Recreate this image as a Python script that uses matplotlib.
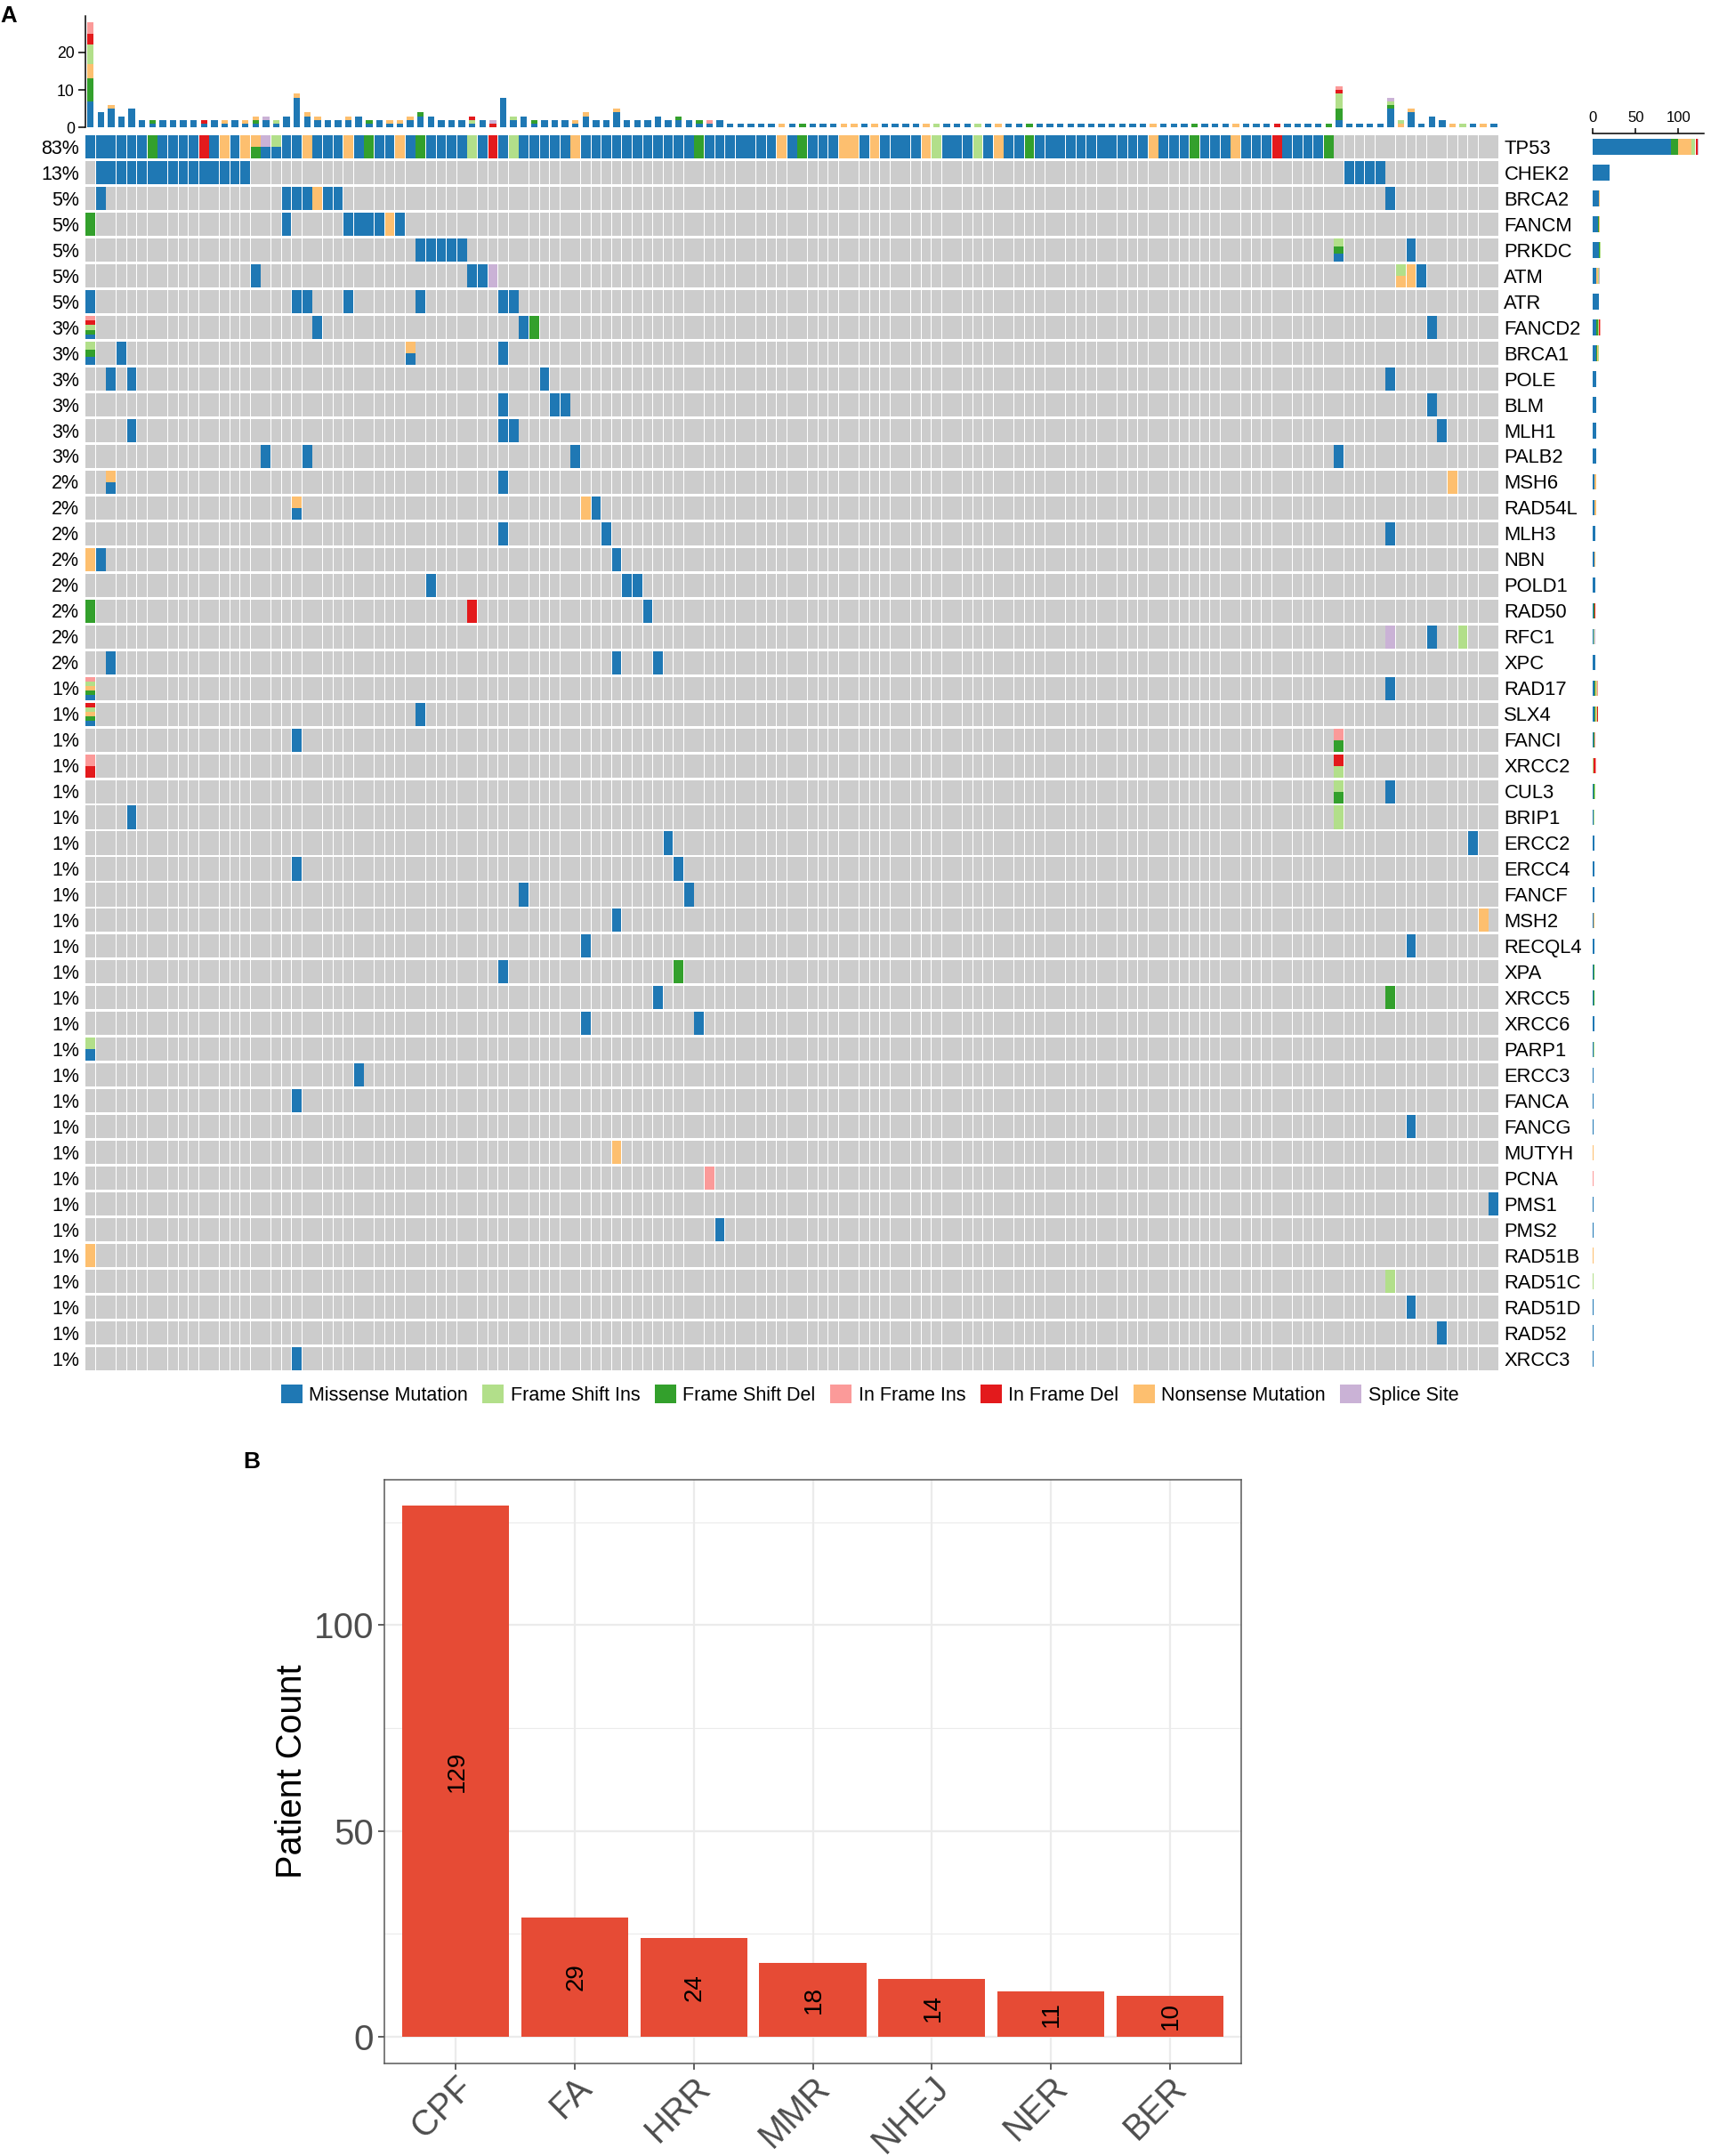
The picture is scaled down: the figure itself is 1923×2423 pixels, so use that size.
import numpy as np
import matplotlib
matplotlib.use("Agg")
import matplotlib.pyplot as plt
from matplotlib.patches import Patch

plt.rcParams['font.family'] = ['Liberation Sans', 'DejaVu Sans']

W, H = 1923, 2423

genes = ["TP53","CHEK2","BRCA2","FANCM","PRKDC","ATM","ATR","FANCD2","BRCA1","POLE","BLM","MLH1",
         "PALB2","MSH6","RAD54L","MLH3","NBN","POLD1","RAD50","RFC1","XPC","RAD17","SLX4","FANCI",
         "XRCC2","CUL3","BRIP1","ERCC2","ERCC4","FANCF","MSH2","RECQL4","XPA","XRCC5","XRCC6",
         "PARP1","ERCC3","FANCA","FANCG","MUTYH","PCNA","PMS1","PMS2","RAD51B","RAD51C","RAD51D",
         "RAD52","XRCC3"]
percents = [83,13,5,5,5,5,5,3,3,3,3,3,3,2,2,2,2,2,2,2,2] + [1]*27
n_samples = 137

# variant classes: M missense, D frameshift del, N nonsense, I frameshift ins,
# R in-frame del, P in-frame ins, S splice site (this is also the stacking order)
order = ["M","D","N","I","R","P","S"]
colors = {"M":"#1F78B4","I":"#B2DF8A","D":"#33A02C","P":"#FB9A99","R":"#E31A1C","N":"#FDBF6F","S":"#CAB2D6"}
legend_order = ["M","I","D","P","R","N","S"]
legend_names = {"M":"Missense Mutation","I":"Frame Shift Ins","D":"Frame Shift Del","P":"In Frame Ins",
                "R":"In Frame Del","N":"Nonsense Mutation","S":"Splice Site"}

# TP53 row, one letter-string per sample with a mutation
tp53 = ("M M M M M M D M M M M R M N M N DN MS MI M M N M M M N M D M M N M D M M M M I M R M I M M M M M "
        "N M M M M M M M M M M M D M M M M M M M N M D M M M N N M N M M M M N I M M M I M N M M D "
        "M M M M M M M M M M M N M M M D M M M N M M M R M M M M D").split()

cells = {
    1: {**{c:"M" for c in range(1,16)}, **{c:"M" for c in range(122,126)}},
    2: {1:"M",19:"M",20:"M",21:"M",22:"N",23:"M",24:"M",126:"M"},
    3: {0:"D",19:"M",25:"M",26:"M",27:"M",28:"M",29:"N",30:"M"},
    4: {32:"M",33:"M",34:"M",35:"M",36:"M",121:"MDI",128:"M"},
    5: {16:"M",37:"M",38:"M",39:"S",127:"NI",128:"N",129:"M"},
    6: {0:"M",20:"M",21:"M",25:"M",32:"M",40:"M",41:"M"},
    7: {0:"MDIRP",22:"M",42:"M",43:"D",130:"M"},
    8: {0:"MDI",3:"M",31:"MN",40:"M"},
    9: {2:"M",4:"M",44:"M",126:"M"},
    10: {40:"M",45:"M",46:"M",130:"M"},
    11: {4:"M",40:"M",41:"M",131:"M"},
    12: {17:"M",21:"M",47:"M",121:"M"},
    13: {2:"MN",40:"M",132:"N"},
    14: {20:"MN",48:"N",49:"M"},
    15: {40:"M",50:"M",126:"M"},
    16: {0:"N",1:"M",51:"M"},
    17: {33:"M",52:"M",53:"M"},
    18: {0:"D",37:"R",54:"M"},
    19: {126:"S",130:"M",133:"I"},
    20: {2:"M",51:"M",55:"M"},
    21: {0:"MDNIP",126:"M"},
    22: {0:"MDNIR",32:"M"},
    23: {20:"M",121:"DP"},
    24: {0:"RP",121:"IR"},
    25: {121:"DI",126:"M"},
    26: {4:"M",121:"I"},
    27: {56:"M",134:"M"},
    28: {20:"M",57:"M"},
    29: {42:"M",58:"M"},
    30: {51:"M",135:"N"},
    31: {48:"M",128:"M"},
    32: {40:"M",57:"D"},
    33: {55:"M",126:"D"},
    34: {48:"M",59:"M"},
    35: {0:"MI"},
    36: {26:"M"},
    37: {20:"M"},
    38: {128:"M"},
    39: {51:"N"},
    40: {60:"P"},
    41: {136:"M"},
    42: {61:"M"},
    43: {0:"N"},
    44: {126:"I"},
    45: {128:"M"},
    46: {131:"M"},
    47: {20:"M"},
}
cells[0] = {i: s for i, s in enumerate(tp53)}

# per-sample mutation counts (top bars)
top_M = [7,4,5,3,5,2,1,2,2,2,2,1,2,1,2,1,1,2,1,3,8,3,2,2,2,2,3,1,2,1,1,2,3,3,2,2,2,1,2,0,8,2,3,1,2,2,2,
         1,3,2,2,4,2,2,2,3,2,2,2,1,1,2,1,1,1,1,1,0,1,0,1,1,1,0,0,1,0,1,1,1,1,0,0,1,1,1,0,1,0,1,1,0,
         1,1,1,1,1,1,1,1,1,1,1,0,1,1,1,0,1,1,1,0,1,1,1,0,1,1,1,1,0,2,1,1,1,1,5,0,4,1,3,2,0,0,1,0,1]
top_D = {0:6,6:1,16:1,27:1,32:1,43:1,57:1,59:1,69:1,91:1,107:1,120:1,121:3,126:1}
top_N = {0:4,2:1,13:1,15:1,16:1,20:1,21:1,22:1,25:1,29:1,30:1,31:1,47:1,48:1,51:1,67:1,73:1,74:1,76:1,81:1,
         88:1,103:1,111:1,127:1,128:1,132:1,135:1}
top_I = {0:5,18:1,37:1,41:1,82:1,86:1,121:4,126:1,127:1,133:1}
top_R = {0:3,11:1,37:1,39:1,115:1,121:1}
top_P = {0:3,60:1,121:1}
top_S = {17:1,39:1,126:1}

pathways = ["CPF","FA","HRR","MMR","NHEJ","NER","BER"]
patient_counts = [129,29,24,18,14,11,10]

fig = plt.figure(figsize=(W/100, H/100), dpi=100, facecolor="white")

def axes_px(x0, y0, x1, y1):
    return fig.add_axes([x0/W, 1-y1/H, (x1-x0)/W, (y1-y0)/H])

GX0, GX1 = 96.3, 1685.0
GY0 = 152.0
PITCH = 28.98
GY1 = GY0 + 48*PITCH
FS = 15.5

# ---- oncoplot grid
ax = axes_px(GX0, GY0, GX1, GY1)
ax.set_xlim(0, n_samples); ax.set_ylim(48, 0); ax.axis("off")
cw, ch = 0.93, 0.9
xx, yy = np.meshgrid(np.arange(n_samples), np.arange(48))
ax.bar(xx.ravel(), ch, width=cw, bottom=yy.ravel(), align="edge", color="#CCCCCC", linewidth=0)
for r, row in cells.items():
    for c, s in row.items():
        h = ch/len(s)
        for k, t in enumerate(s):
            ax.bar(c, h, width=cw, bottom=r+ch-(k+1)*h, align="edge", color=colors[t], linewidth=0)
for r, (g, p) in enumerate(zip(genes, percents)):
    ax.text(137.47, r+ch/2+0.265, g, fontsize=15.8, va="baseline", ha="left", clip_on=False)
    ax.text(-0.63, r+ch/2+0.265, f"{p}%", fontsize=FS, va="baseline", ha="right", clip_on=False)

# ---- top bars
axt = axes_px(GX0, 18, GX1, 143.3)
axt.set_xlim(0, n_samples); axt.set_ylim(0, (143.3-18)/4.22)
x = np.arange(n_samples)+0.465
bottom = np.zeros(n_samples)
def dense(d):
    a = np.zeros(n_samples)
    for k, v in d.items():
        a[k] = v
    return a
series = {"M":np.array(top_M,float),"D":dense(top_D),"N":dense(top_N),"I":dense(top_I),
          "R":dense(top_R),"P":dense(top_P),"S":dense(top_S)}
for t in order:
    axt.bar(x, series[t], width=0.64, bottom=bottom, color=colors[t], linewidth=0)
    bottom += series[t]
for s in ("top","right","bottom"):
    axt.spines[s].set_visible(False)
axt.spines["left"].set_linewidth(1.1)
axt.set_xticks([])
axt.set_yticks([0,10,20])
axt.tick_params(axis="y", length=6, width=1.1, labelsize=12.7, pad=3)

# ---- side bars
axs = axes_px(1790.3, GY0, 1915.1, GY1)
axs.set_xlim(0, 130); axs.set_ylim(48, 0)
totals = {t: np.zeros(48) for t in order}
for r, row in cells.items():
    for s in row.values():
        for t in s:
            totals[t][r] += 1
left = np.zeros(48)
for t in order:
    axs.barh(np.arange(48)+ch/2, totals[t], height=0.6, left=left, color=colors[t], linewidth=0)
    left += totals[t]
for s in ("left","right","bottom"):
    axs.spines[s].set_visible(False)
axs.spines["top"].set_position(("outward", 1.5))
axs.spines["top"].set_linewidth(1.1)
axs.xaxis.tick_top()
axs.set_xticks([0,50,100]); axs.set_yticks([])
axs.tick_params(axis="x", length=4.3, width=1.1, labelsize=12, pad=3)

# ---- legend
handles = [Patch(color=colors[t], label=legend_names[t], linewidth=0) for t in legend_order]
fig.legend(handles=handles, loc="center", bbox_to_anchor=(977.5/W, 1-1567.5/H), ncol=7, frameon=False,
           fontsize=FS, handlelength=1.115, handleheight=1.08, handletextpad=0.35, columnspacing=0.76,
           borderpad=0, borderaxespad=0)

# ---- panel letters
fig.text(0, 1-25/H, "A", fontsize=18.5, fontweight="bold", ha="left", va="baseline")
fig.text(273/W, 1-1650/H, "B", fontsize=19, fontweight="bold", ha="left", va="baseline")

# ---- panel B
axb = axes_px(432, 1662.5, 1395, 2318.6)
px = np.arange(len(pathways))
axb.set_xlim(-0.6, 6.6)
axb.set_ylim(-6.45, 135.45)
axb.set_axisbelow(True)
axb.bar(px, patient_counts, width=0.9, color="#E64B35", linewidth=0, zorder=3)
axb.set_yticks([0,50,100])
axb.set_yticks([25,75,125], minor=True)
axb.grid(True, which="major", color="#EBEBEB", linewidth=1.6)
axb.grid(True, which="minor", axis="y", color="#EBEBEB", linewidth=0.8)
axb.tick_params(axis="y", which="minor", length=0)
axb.set_xticks(px, pathways, rotation=45, ha="right", rotation_mode="anchor")
axb.tick_params(axis="both", which="major", labelsize=29, labelcolor="#4D4D4D", color="#333333", length=5, width=1.1)
axb.tick_params(axis="x", labelsize=28.5, pad=1)
axb.set_ylabel("Patient Count", fontsize=28.6, color="black", labelpad=4)
for s in axb.spines.values():
    s.set_color("#595959"); s.set_linewidth(1.1)
for xi, v in zip(px, patient_counts):
    axb.text(xi+0.01, v/2, str(v), rotation=90, ha="center", va="center", fontsize=20, color="black", zorder=4)

fig.savefig("out.png", dpi=100, facecolor="white")
